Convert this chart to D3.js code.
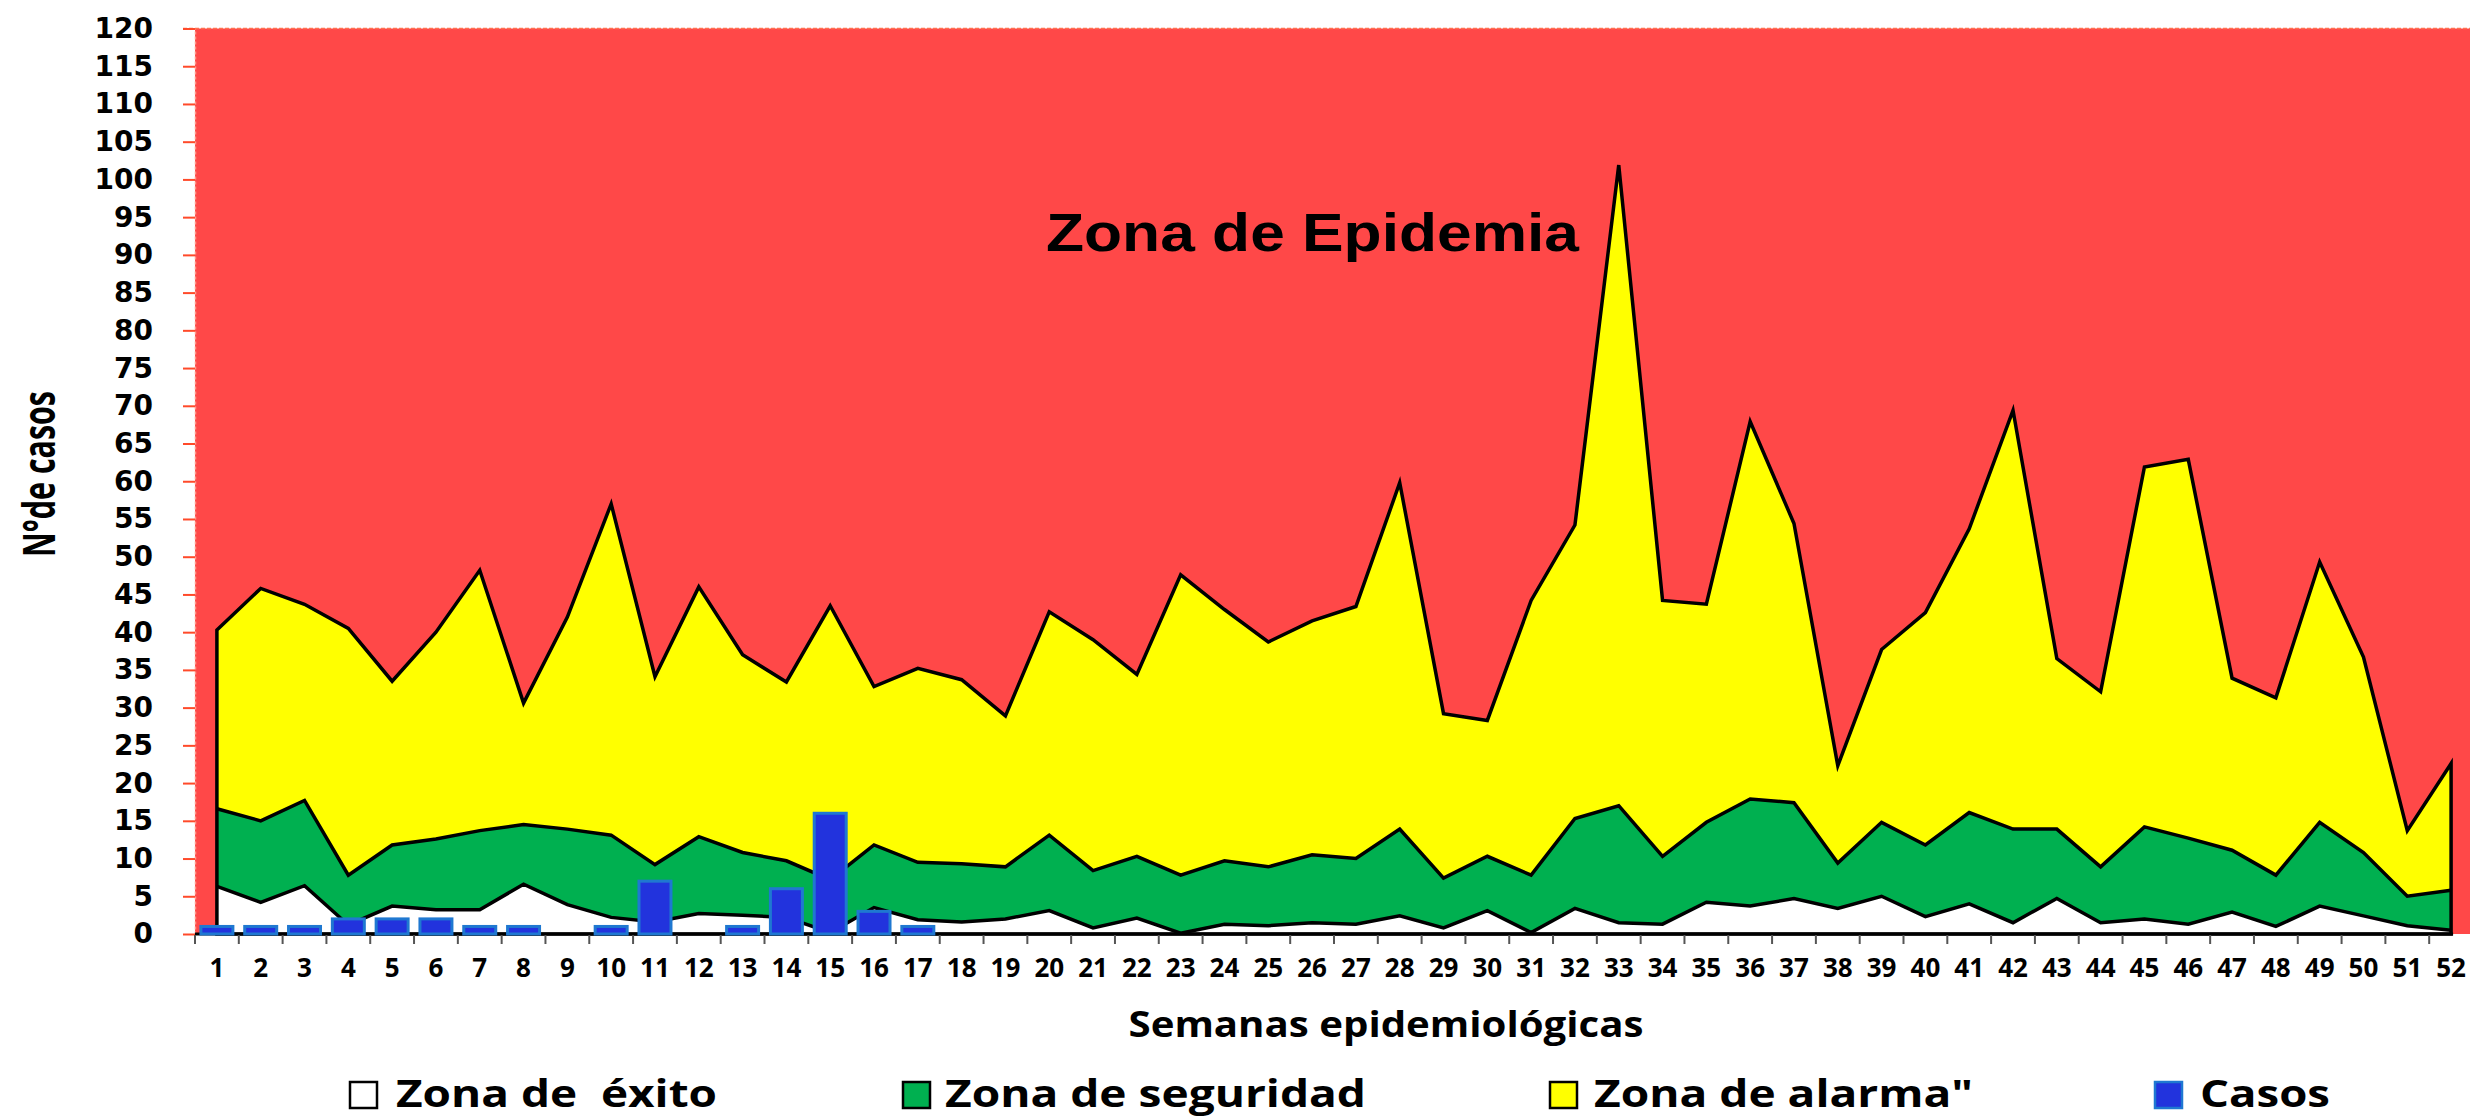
<!DOCTYPE html>
<meta charset="utf-8">
<script src="https://d3js.org/d3.v7.min.js"></script>
<style>
  body { margin: 0; background: #fff; }
  text { font-family: "Open Sans", sans-serif; font-weight: 700; fill: #000; }
</style>
<div id="chart"></div>
<script>
  // semanas epidemiológicas
  var weeks = [1, 2, 3, 4, 5, 6, 7, 8, 9, 10, 11, 12, 13, 14, 15, 16, 17, 18, 19, 20,
    21, 22, 23, 24, 25, 26, 27, 28, 29, 30, 31, 32, 33, 34, 35, 36, 37, 38, 39, 40,
    41, 42, 43, 44, 45, 46, 47, 48, 49, 50, 51, 52];

  // upper limit of each zone
  var exito = [6.3, 4.2, 6.4, 1.2, 3.7, 3.2, 3.2, 6.6, 3.9, 2.2,
    1.6, 2.7, 2.5, 2.2, 0.2, 3.5, 1.9, 1.6, 2.0, 3.1,
    0.8, 2.1, 0.1, 1.3, 1.1, 1.5, 1.3, 2.4, 0.8, 3.1,
    0.2, 3.4, 1.5, 1.3, 4.2, 3.7, 4.7, 3.4, 5.0, 2.3,
    4.0, 1.5, 4.7, 1.5, 2.0, 1.3, 2.9, 1.0, 3.7, 2.4,
    1.1, 0.5];
  var seguridad = [16.6, 15.0, 17.7, 7.8, 11.8, 12.6, 13.7, 14.5, 13.9, 13.1,
    9.2, 12.9, 10.8, 9.7, 7.2, 11.8, 9.5, 9.3, 8.9, 13.1,
    8.4, 10.3, 7.8, 9.7, 8.9, 10.5, 10.0, 13.9, 7.4, 10.3,
    7.8, 15.3, 17.0, 10.3, 14.8, 17.9, 17.4, 9.4, 14.8, 11.8,
    16.1, 13.9, 13.9, 8.9, 14.2, 12.7, 11.1, 7.8, 14.8, 10.8,
    5.0, 5.8];
  var alarma = [40.3, 45.8, 43.7, 40.5, 33.5, 40.0, 48.2, 30.6, 42.0, 57.0,
    34.1, 46.0, 37.0, 33.4, 43.5, 32.8, 35.2, 33.7, 28.9, 42.7,
    39.0, 34.4, 47.6, 43.0, 38.7, 41.5, 43.4, 59.8, 29.2, 28.3,
    44.2, 54.2, 101.9, 44.2, 43.7, 67.9, 54.4, 22.3, 37.7, 42.6,
    53.7, 69.4, 36.5, 32.1, 61.9, 62.9, 33.9, 31.3, 49.3, 36.7,
    13.7, 22.6];
  var casos = [1, 1, 1, 2, 2, 2, 1, 1, 0, 1, 7, 0, 1, 6, 16, 3, 1, 0, 0, 0,
    0, 0, 0, 0, 0, 0, 0, 0, 0, 0, 0, 0, 0, 0, 0, 0, 0, 0, 0, 0,
    0, 0, 0, 0, 0, 0, 0, 0, 0, 0, 0, 0];

  var yTicks = [0, 5, 10, 15, 20, 25, 30, 35, 40, 45, 50, 55, 60, 65, 70, 75, 80,
    85, 90, 95, 100, 105, 110, 115, 120];
  var legendLabels = ["Zona de  éxito", "Zona de seguridad", "Zona de alarma\"", "Casos"];

  var width = 2470, height = 1119;
  var plot = { left: 195, right: 2473, top: 28.5, bottom: 934 };

  var svg = d3.select("#chart").append("svg")
    .attr("width", width)
    .attr("height", height);

  var x = d3.scaleBand().domain(weeks).range([plot.left, plot.right]);
  var xBar = d3.scaleBand().domain(weeks).range([plot.left, plot.right])
    .paddingInner(0.27).paddingOuter(0.135);
  var y = d3.scaleLinear().domain([0, 120]).range([plot.bottom, plot.top]);
  function cx(w) { return x(w) + x.bandwidth() / 2; }

  // red background = zona de epidemia
  svg.append("rect")
    .attr("x", plot.left)
    .attr("y", y(120))
    .attr("width", width - plot.left)
    .attr("height", y(0) - y(120))
    .attr("fill", "#ff4848");

  // top dashed border
  svg.append("line")
    .attr("x1", plot.left - 12).attr("x2", width)
    .attr("y1", y(120)).attr("y2", y(120))
    .attr("stroke", "#ff7050")
    .attr("stroke-width", 1.5)
    .attr("stroke-dasharray", "4,2");

  var rows = weeks.map(function (w, i) {
    return { w: w, e: exito[i], s: seguridad[i], a: alarma[i] };
  });

  function zone(top) {
    return d3.area()
      .x(function (d) { return cx(d.w); })
      .y0(y(0))
      .y1(function (d) { return y(top(d)); });
  }
  function edge(top) {
    return d3.line()
      .x(function (d) { return cx(d.w); })
      .y(function (d) { return y(top(d)); });
  }

  svg.append("path").datum(rows).attr("d", zone(function (d) { return d.a; })).attr("fill", "#ffff00");
  svg.append("path").datum(rows).attr("d", zone(function (d) { return d.s; })).attr("fill", "#00b050");
  svg.append("path").datum(rows).attr("d", zone(function (d) { return d.e; })).attr("fill", "#ffffff");

  // outlines
  svg.append("path").datum(rows)
    .attr("d", zone(function (d) { return d.a; }))
    .attr("fill", "none").attr("stroke", "#000").attr("stroke-width", 3.5);
  [function (d) { return d.s; }, function (d) { return d.e; }].forEach(function (f) {
    svg.append("path").datum(rows)
      .attr("d", edge(f))
      .attr("fill", "none").attr("stroke", "#000").attr("stroke-width", 3.5);
  });

  // Y axis
  var yAxis = svg.append("g")
    .attr("transform", "translate(" + plot.left + ",0)")
    .call(d3.axisLeft(y).tickValues(yTicks).tickSize(12).tickSizeOuter(0).tickPadding(30));
  yAxis.select(".domain")
    .attr("stroke", "#ff9a8a")
    .attr("stroke-width", 1.5)
    .attr("stroke-dasharray", "3,2");
  yAxis.selectAll(".tick line").attr("stroke", "#ff4a2a").attr("stroke-width", 2);
  yAxis.selectAll(".tick text")
    .style("font-family", "'DejaVu Sans', sans-serif")
    .style("font-weight", "700")
    .style("font-size", "28px")
    .attr("fill", "#000");

  // X axis
  svg.append("line")
    .attr("x1", plot.left).attr("x2", cx(52) + 2)
    .attr("y1", y(0)).attr("y2", y(0))
    .attr("stroke", "#000").attr("stroke-width", 3);
  svg.append("g").selectAll("line")
    .data(weeks)
    .enter()
    .append("line")
    .attr("x1", function (d) { return x(d); })
    .attr("x2", function (d) { return x(d); })
    .attr("y1", y(0) + 1)
    .attr("y2", y(0) + 10)
    .attr("stroke", "#555").attr("stroke-width", 2);
  var xAxis = svg.append("g")
    .attr("transform", "translate(0," + y(0) + ")")
    .call(d3.axisBottom(x).tickSize(0).tickPadding(25));
  xAxis.select(".domain").remove();
  xAxis.selectAll(".tick text")
    .style("font-family", "'Open Sans', sans-serif")
    .style("font-weight", "700")
    .style("font-size", "26px")
    .attr("fill", "#000");

  // Casos bars
  svg.append("g").selectAll("rect")
    .data(weeks.filter(function (w, i) { return casos[i] > 0; }))
    .enter()
    .append("rect")
    .attr("x", function (d) { return xBar(d); })
    .attr("y", function (d) { return y(casos[d - 1]); })
    .attr("width", xBar.bandwidth())
    .attr("height", function (d) { return y(0) - y(casos[d - 1]); })
    .attr("fill", "#2233dd")
    .attr("stroke", "#1f78d1")
    .attr("stroke-width", 3);

  // texts
  svg.append("text")
    .attr("x", 1046)
    .attr("y", 251)
    .attr("textLength", 533)
    .attr("lengthAdjust", "spacingAndGlyphs")
    .style("font-family", "'Liberation Sans', Arial, sans-serif")
    .style("font-size", "54px")
    .text("Zona de Epidemia");

  svg.append("text")
    .attr("x", 1386)
    .attr("y", 1037)
    .attr("text-anchor", "middle")
    .attr("textLength", 515)
    .attr("lengthAdjust", "spacingAndGlyphs")
    .style("font-size", "35px")
    .text("Semanas epidemiológicas");

  svg.append("text")
    .attr("transform", "translate(55,474) rotate(-90)")
    .attr("text-anchor", "middle")
    .attr("textLength", 166)
    .attr("lengthAdjust", "spacingAndGlyphs")
    .style("font-size", "45px")
    .text("N°de casos");

  // legend
  var legendFill = ["#ffffff", "#00b050", "#ffff00", "#2233dd"];
  var legendStroke = ["#000", "#000", "#000", "#1f78d1"];
  var legendBoxX = [350, 903, 1550, 2155];
  var legendTextX = [396, 945, 1594, 2200];
  var legendTextW = [321, 421, 379, 130];

  var legend = svg.append("g").selectAll("g")
    .data(legendLabels)
    .enter()
    .append("g");
  legend.append("rect")
    .attr("x", function (d, i) { return legendBoxX[i]; })
    .attr("y", 1082)
    .attr("width", 27)
    .attr("height", 26)
    .attr("fill", function (d, i) { return legendFill[i]; })
    .attr("stroke", function (d, i) { return legendStroke[i]; })
    .attr("stroke-width", 2.5);
  legend.append("text")
    .attr("x", function (d, i) { return legendTextX[i]; })
    .attr("y", 1107)
    .attr("textLength", function (d, i) { return legendTextW[i]; })
    .attr("lengthAdjust", "spacingAndGlyphs")
    .style("white-space", "pre")
    .style("font-size", "37px")
    .text(function (d) { return d; });
</script>
